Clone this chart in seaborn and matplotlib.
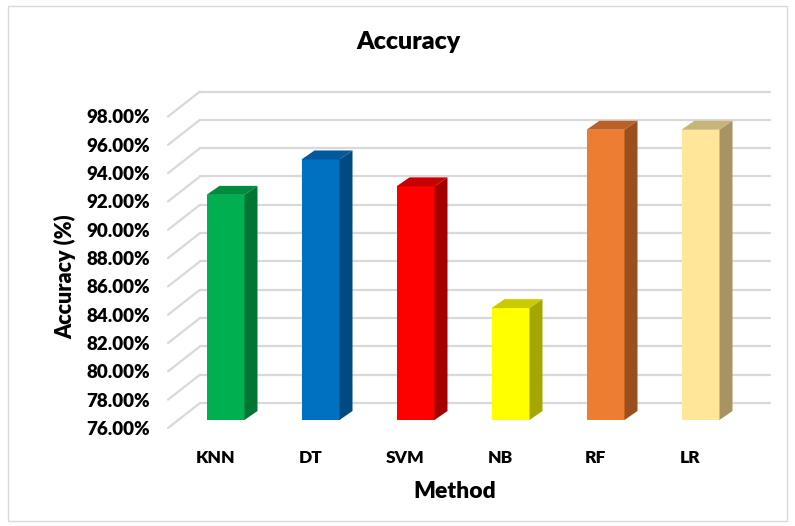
import matplotlib
matplotlib.use("Agg")
import numpy as np
import pandas as pd
import seaborn as sns
import matplotlib.pyplot as plt
from matplotlib.patches import Polygon, Rectangle

# Classification accuracy (%) per method
methods = ["KNN", "DT", "SVM", "NB", "RF", "LR"]
accuracy = [91.9, 94.4, 92.5, 83.9, 96.5, 96.5]
y_ticks = [76, 78, 80, 82, 84, 86, 88, 90, 92, 94, 96, 98]

# Face shading for the pseudo-3D columns: front, top, side
front_colors = ["#00B050", "#0070C0", "#FF0000", "#FFFF00", "#ED7D31", "#FFE699"]
top_colors = ["#008C3F", "#005A9C", "#C80000", "#CACA00", "#BB6027", "#C8B478"]
side_colors = ["#007534", "#004A82", "#A50000", "#A6A600", "#9A4F1F", "#A69563"]

sns.set_theme(style="white")
plt.rcParams["font.family"] = ["Lato", "DejaVu Sans"]
plt.rcParams["font.weight"] = "heavy"
WEIGHT = "heavy"

W, H = 795, 526
fig = plt.figure(figsize=(W / 100, H / 100), dpi=100)
fig.patch.set_facecolor("white")

# Axes = front plane of the 3D box
ax_left, ax_right, ax_top, ax_bottom = 168, 738, 116.5, 428
ax = fig.add_axes([ax_left / W, (H - ax_bottom) / H,
                   (ax_right - ax_left) / W, (ax_bottom - ax_top) / H])

df = pd.DataFrame({"Method": methods, "Accuracy": accuracy})
sns.barplot(data=df, x="Method", y="Accuracy", hue="Method",
            palette=front_colors, legend=False, width=0.4,
            saturation=1, ax=ax)

y0, y1 = y_ticks[0], y_ticks[-1]
ax.set_xlim(-0.5, len(methods) - 0.5)
ax.set_ylim(y0, y1)

# pixel -> data unit conversion for depth offsets
ux = (len(methods)) / (ax_right - ax_left)
uy = (y1 - y0) / (ax_bottom - ax_top)

def off(px, py):
    return px * ux, py * uy

wall_dx, wall_dy = off(32, 25)     # back wall depth
face_dx, face_dy = off(10, 8)      # bar front face depth
bar_dx, bar_dy = off(13, 9)        # bar thickness

grid_color = "#D9D9D9"
xl, xr = ax.get_xlim()
for t in y_ticks:
    ax.plot([xl + wall_dx, xr + wall_dx], [t + wall_dy, t + wall_dy],
            color=grid_color, lw=1.6, clip_on=False, zorder=1)
    ax.plot([xl, xl + wall_dx], [t, t + wall_dy],
            color=grid_color, lw=1.6, clip_on=False, zorder=1)

for i, (p, v) in enumerate(zip(ax.patches, accuracy)):
    x0 = p.get_x() + face_dx
    x1 = x0 + p.get_width()
    b = y0 + face_dy
    top = v + face_dy
    p.set_x(x0)
    p.set_y(b)
    p.set_height(v - y0)
    p.set_clip_on(False)
    p.set_zorder(3)
    p.set_edgecolor("none")
    top_face = Polygon([(x0, top), (x1, top), (x1 + bar_dx, top + bar_dy),
                        (x0 + bar_dx, top + bar_dy)], closed=True,
                       facecolor=top_colors[i], edgecolor="none",
                       clip_on=False, zorder=3)
    side_face = Polygon([(x1, b), (x1 + bar_dx, b + bar_dy),
                         (x1 + bar_dx, top + bar_dy), (x1, top)], closed=True,
                        facecolor=side_colors[i], edgecolor="none",
                        clip_on=False, zorder=3)
    ax.add_patch(top_face)
    ax.add_patch(side_face)

for s in ax.spines.values():
    s.set_visible(False)
ax.set_facecolor("none")
ax.set_yticks(y_ticks)
ax.set_yticklabels([f"{t:.2f}%" for t in y_ticks])
ax.tick_params(axis="y", length=0, pad=13, labelsize=13.5, labelcolor="black")
ax.tick_params(axis="x", length=0, pad=16, labelsize=12.5, labelcolor="black")
for lab in ax.get_xticklabels() + ax.get_yticklabels():
    lab.set_fontweight(WEIGHT)

ax.set_xlabel("Method", fontsize=16.5, fontweight=WEIGHT, color="black", va="center")
ax.set_ylabel("Accuracy (%)", fontsize=15.5, fontweight=WEIGHT, color="black", va="center")
ax.xaxis.set_label_coords((455 - ax_left) / (ax_right - ax_left),
                          (ax_bottom - 492) / (ax_bottom - ax_top))
ax.yaxis.set_label_coords((65 - ax_left) / (ax_right - ax_left),
                          (ax_bottom - 277) / (ax_bottom - ax_top))

fig.text(408 / W, 1 - 42 / H, "Accuracy", ha="center", va="center",
         fontsize=18, fontweight=WEIGHT, color="black")

fig.add_artist(Rectangle((8 / W, 5 / H), (787 - 8) / W, (520 - 5) / H,
                         transform=fig.transFigure, fill=False,
                         edgecolor="#D9D9D9", lw=1))

fig.savefig("out.png", dpi=100)
